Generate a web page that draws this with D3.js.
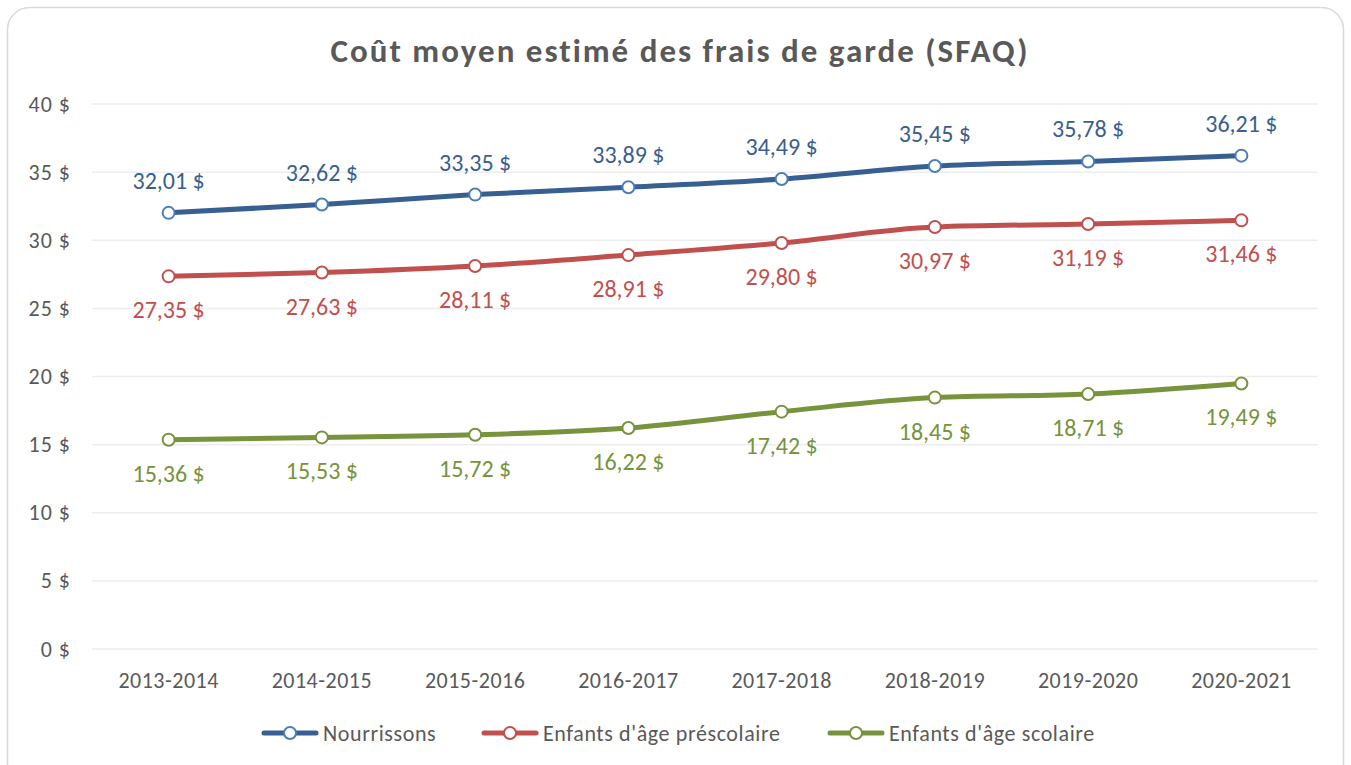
<!DOCTYPE html>
<html>
<head>
<meta charset="utf-8">
<script src="https://cdn.jsdelivr.net/npm/d3@7"></script>
<style>
  body { margin: 0; background: #fff; }
  svg text { font-family: Calibri, Carlito, Lato, "Open Sans", sans-serif; }
</style>
</head>
<body>
<div id="chart"></div>
<script>
// Data
var years = ["2013-2014", "2014-2015", "2015-2016", "2016-2017", "2017-2018", "2018-2019", "2019-2020", "2020-2021"]
var nourrissons = [32.01, 32.62, 33.35, 33.89, 34.49, 35.45, 35.78, 36.21]
var prescolaire = [27.35, 27.63, 28.11, 28.91, 29.80, 30.97, 31.19, 31.46]
var scolaire = [15.36, 15.53, 15.72, 16.22, 17.42, 18.45, 18.71, 19.49]
var yTicks = [0, 5, 10, 15, 20, 25, 30, 35, 40]
var seriesNames = ["Nourrissons", "Enfants d'âge préscolaire", "Enfants d'âge scolaire"]

var series = [
  {name: seriesNames[0], values: nourrissons, line: "#375F92", marker: "#4A7EBB", label: "#3A5F8E", dy: -24},
  {name: seriesNames[1], values: prescolaire, line: "#C0504D", marker: "#C0504D", label: "#C0504D", dy: 42},
  {name: seriesNames[2], values: scolaire, line: "#77933C", marker: "#77933C", label: "#77933C", dy: 42}
]

var W = 1351, H = 765
var margin = {top: 104, right: 33, bottom: 116, left: 92},
    width = W - margin.left - margin.right,
    height = H - margin.top - margin.bottom

var fmt = function(v) { return v.toFixed(2).replace(".", ",") + " $" }

var svg = d3.select("#chart")
  .append("svg")
  .attr("width", W)
  .attr("height", H)

// chart border
svg.append("rect")
  .attr("x", 7.5).attr("y", 7.5)
  .attr("width", W - 15).attr("height", H + 20)
  .attr("rx", 22)
  .attr("fill", "#fff")
  .attr("stroke", "#D9D9D9")
  .attr("stroke-width", 1.5)

// title
svg.append("text")
  .attr("x", 680)
  .attr("y", 62)
  .attr("text-anchor", "middle")
  .style("font-size", "33px")
  .style("font-weight", "bold")
  .style("letter-spacing", "2px")
  .style("fill", "#595959")
  .text("Coût moyen estimé des frais de garde (SFAQ)")

var g = svg.append("g")
  .attr("transform", "translate(" + margin.left + "," + margin.top + ")")

var x = d3.scaleBand()
  .domain(years)
  .range([0, width])

var y = d3.scaleLinear()
  .domain([0, 40])
  .range([height, 0])

// grid
g.append("g")
  .selectAll("line")
  .data(yTicks)
  .enter()
  .append("line")
  .attr("x1", 0)
  .attr("x2", width)
  .attr("y1", function(d) { return y(d) })
  .attr("y2", function(d) { return y(d) })
  .attr("stroke", "#EDEDED")
  .attr("stroke-width", 1.5)

// y axis
var yAxis = g.append("g")
  .call(d3.axisLeft(y).tickValues(yTicks).tickSize(0).tickPadding(21)
    .tickFormat(function(d) { return d + " $" }))
yAxis.select(".domain").remove()
yAxis.selectAll("text")
  .style("font-size", "22px")
  .style("letter-spacing", "1px")
  .style("fill", "#595959")

// x axis
var xAxis = g.append("g")
  .attr("transform", "translate(0," + height + ")")
  .call(d3.axisBottom(x).tickSize(0))
xAxis.select(".domain").remove()
xAxis.selectAll("text")
  .attr("y", 39)
  .attr("dy", null)
  .style("font-size", "22px")
  .style("letter-spacing", "0.5px")
  .style("fill", "#595959")

var line = d3.line()
  .x(function(d, i) { return x(years[i]) + x.bandwidth() / 2 })
  .y(function(d) { return y(d) })
  .curve(d3.curveMonotoneX)

series.forEach(function(s) {
  g.append("path")
    .datum(s.values)
    .attr("d", line)
    .attr("fill", "none")
    .attr("stroke", s.line)
    .attr("stroke-width", 5)
    .attr("stroke-linecap", "round")

  g.append("g")
    .selectAll("circle")
    .data(s.values)
    .enter()
    .append("circle")
    .attr("cx", function(d, i) { return x(years[i]) + x.bandwidth() / 2 })
    .attr("cy", function(d) { return y(d) })
    .attr("r", 6)
    .attr("fill", "#fff")
    .attr("stroke", s.marker)
    .attr("stroke-width", 2)

  g.append("g")
    .selectAll("text")
    .data(s.values)
    .enter()
    .append("text")
    .attr("x", function(d, i) { return x(years[i]) + x.bandwidth() / 2 })
    .attr("y", function(d) { return y(d) + s.dy })
    .attr("text-anchor", "middle")
    .style("font-size", "24px")
    .style("fill", s.label)
    .text(function(d) { return fmt(d) })
})

// legend
var legendX = [262, 482, 828]
var legend = svg.append("g")
  .selectAll("g")
  .data(series)
  .enter()
  .append("g")
  .attr("transform", function(d, i) { return "translate(" + legendX[i] + ",733)" })

legend.append("line")
  .attr("x1", 2).attr("x2", 54)
  .attr("y1", 0).attr("y2", 0)
  .attr("stroke", function(d) { return d.line })
  .attr("stroke-width", 5)
  .attr("stroke-linecap", "round")

legend.append("circle")
  .attr("cx", 28).attr("cy", 0).attr("r", 6)
  .attr("fill", "#fff")
  .attr("stroke", function(d) { return d.marker })
  .attr("stroke-width", 2)

legend.append("text")
  .attr("x", 61)
  .attr("y", 8)
  .style("font-size", "22px")
  .style("letter-spacing", "0.6px")
  .style("fill", "#595959")
  .text(function(d) { return d.name })
</script>
</body>
</html>
